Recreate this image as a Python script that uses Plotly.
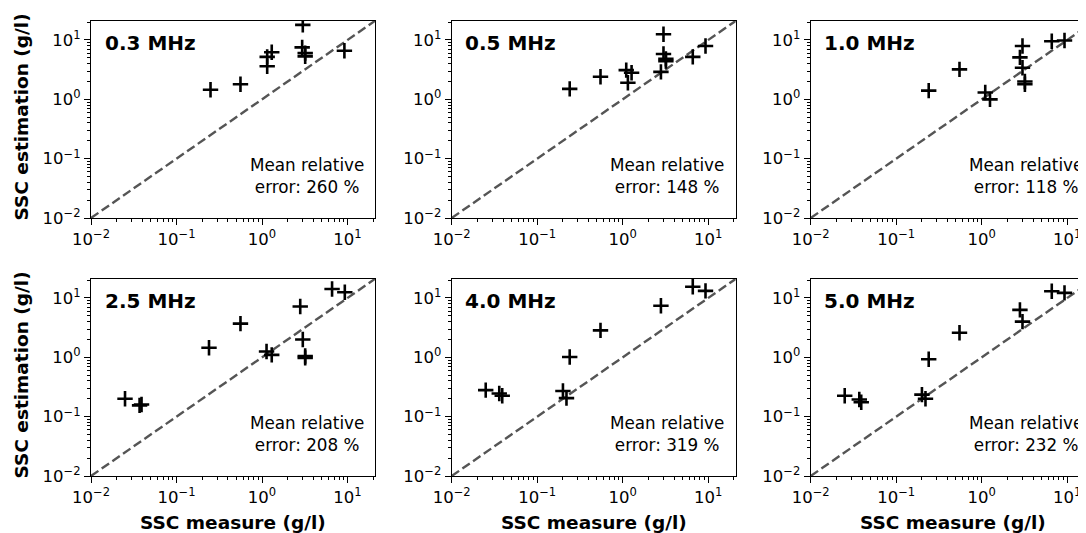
import plotly.graph_objects as go
from plotly.subplots import make_subplots

# ---------------- data ----------------
freq_labels = ["0.3 MHz", "0.5 MHz", "1.0 MHz", "2.5 MHz", "4.0 MHz", "5.0 MHz"]
mean_rel_errors = ["260", "148", "118", "208", "319", "232"]

p1_meas = [0.25, 0.56, 1.15, 1.15, 1.3, 3.0, 2.95, 3.2, 3.2, 9.2]
p1_est = [1.45, 1.8, 5.2, 3.6, 6.2, 18.0, 7.5, 6.0, 5.3, 6.6]

p2_meas = [0.24, 0.55, 1.1, 1.15, 1.27, 2.8, 3.0, 3.0, 3.2, 3.2, 6.6, 9.3]
p2_est = [1.5, 2.4, 3.1, 1.9, 2.8, 2.9, 12.5, 5.8, 4.8, 4.4, 5.2, 7.9]

p3_meas = [0.24, 0.55, 1.1, 1.25, 2.8, 3.0, 3.0, 3.2, 3.2, 6.6, 9.3]
p3_est = [1.4, 3.2, 1.3, 1.0, 5.1, 7.9, 3.4, 2.0, 1.8, 9.5, 9.8]

p4_meas = [0.025, 0.037, 0.039, 0.24, 0.56, 1.13, 1.3, 2.8, 3.0, 3.2, 3.2, 6.6, 9.3]
p4_est = [0.2, 0.155, 0.16, 1.45, 3.7, 1.25, 1.1, 7.2, 2.0, 1.05, 0.98, 14.2, 12.5]

p5_meas = [0.025, 0.036, 0.039, 0.2, 0.22, 0.24, 0.55, 2.8, 6.6, 9.3]
p5_est = [0.28, 0.245, 0.225, 0.27, 0.205, 1.01, 2.85, 7.4, 15.5, 13.2]

p6_meas = [0.025, 0.037, 0.039, 0.2, 0.22, 0.24, 0.55, 2.8, 3.0, 6.6, 9.3]
p6_est = [0.225, 0.195, 0.175, 0.235, 0.2, 0.93, 2.6, 6.3, 4.0, 13.0, 12.2]

identity_line = [0.01, 100.0]

tick_vals = [0.01, 0.1, 1, 10]
tick_text = ["10<sup>\u22122</sup>", "10<sup>\u22121</sup>", "10<sup>0</sup>", "10<sup>1</sup>"]

x_title = "SSC measure (g/l)"
y_title = "SSC estimation (g/l)"

panels = [
    (p1_meas, p1_est), (p2_meas, p2_est), (p3_meas, p3_est),
    (p4_meas, p4_est), (p5_meas, p5_est), (p6_meas, p6_est),
]

# ---------------- layout geometry (pixels of the 1086x533 view) ----------------
OFF = 8                      # page body margin
VIEW_W, VIEW_H = 1086, 533
W, H = VIEW_W - OFF, VIEW_H - OFF
FONT = "DejaVu Sans"
col_left = [91.0 - OFF, 451.7 - OFF, 810.7 - OFF]
full_w = 284.0
decade_px = 85.5
row_top = [21.0 - OFF, 279.0 - OFF]
row_h = 197.0
log_lo, log_hi = -2.0, 1.32

fig = make_subplots(rows=2, cols=3)

for i, (xm, ye) in enumerate(panels):
    r, c = i // 3 + 1, i % 3 + 1
    fig.add_trace(go.Scatter(
        x=identity_line, y=identity_line, mode="lines",
        line=dict(color="#555555", width=2.4, dash="9px,4px"),
        showlegend=False, hoverinfo="skip"), row=r, col=c)
    fig.add_trace(go.Scatter(
        x=xm, y=ye, mode="markers",
        marker=dict(symbol="cross-thin", size=11, color="black",
                    line=dict(color="black", width=2.6)),
        showlegend=False), row=r, col=c)

annotations = []
for i in range(6):
    r, c = i // 3, i % 3
    idx = "" if i == 0 else str(i + 1)
    left = col_left[c]
    right = min(left + full_w, W)
    top = row_top[r]
    bottom = top + row_h
    x_hi = log_lo + (right - left) / decade_px
    axis_common = dict(
        type="log", showgrid=False, zeroline=False, automargin=False,
        showline=True, linecolor="black", linewidth=1.2,
        ticks="outside", ticklen=6, tickwidth=1.2, tickcolor="black",
        tickmode="array", tickvals=tick_vals, ticktext=tick_text,
        tickfont=dict(family=FONT, size=16.5, color="black"),
        minor=dict(ticks="outside", ticklen=3, tickwidth=0.9, tickcolor="black",
                   dtick="D1", showgrid=False),
    )
    fig.layout["xaxis" + idx].update(
        domain=[left / W, right / W], range=[log_lo, x_hi],
        mirror=True, **axis_common)
    fig.layout["yaxis" + idx].update(
        domain=[1 - bottom / H, 1 - top / H], range=[log_lo, log_hi],
        mirror=(c != 2), **axis_common)

    # frequency label
    annotations.append(dict(
        text="<b>" + freq_labels[i] + "</b>", xref="paper", yref="paper",
        x=(left + 11.5) / W, y=1 - (top + 22) / H,
        xanchor="left", yanchor="middle", showarrow=False,
        font=dict(family=FONT, size=20, color="black")))
    # mean relative error
    annotations.append(dict(
        text="Mean relative<br>error: " + mean_rel_errors[i] + " %",
        xref="paper", yref="paper",
        x=(left + 274.5) / W, y=1 - (top + 155) / H,
        xanchor="right", yanchor="middle", align="center", showarrow=False,
        font=dict(family=FONT, size=16.8, color="black")))

# axis titles
for r in range(2):
    annotations.append(dict(
        text="<b>" + y_title + "</b>", xref="paper", yref="paper",
        x=(21 - OFF) / W, y=1 - (row_top[r] + row_h / 2 - 2) / H,
        xanchor="center", yanchor="middle", textangle=-90, showarrow=False,
        font=dict(family=FONT, size=18.5, color="black")))
for c in range(3):
    annotations.append(dict(
        text="<b>" + x_title + "</b>", xref="paper", yref="paper",
        x=(col_left[c] + full_w / 2) / W, y=1 - (522 - OFF) / H,
        xanchor="center", yanchor="middle", showarrow=False,
        font=dict(family=FONT, size=18.5, color="black")))

fig.update_layout(
    width=W, height=H, autosize=False,
    margin=dict(l=0, r=0, t=0, b=0, pad=0, autoexpand=False),
    paper_bgcolor="white", plot_bgcolor="white",
    font=dict(family=FONT, color="black"),
    annotations=annotations,
)

fig.write_html("out.html")
